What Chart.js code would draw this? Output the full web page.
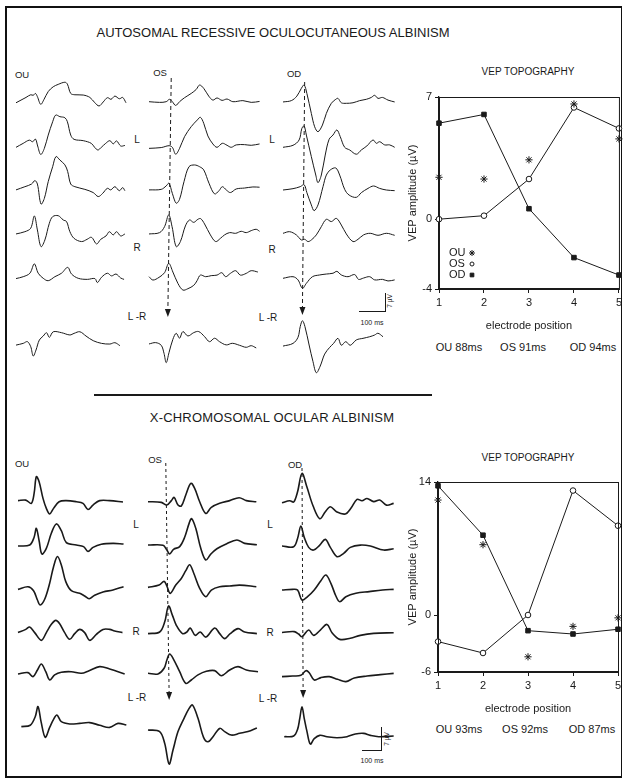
<!DOCTYPE html>
<html><head><meta charset="utf-8">
<script src="https://cdn.jsdelivr.net/npm/chart.js@4.4.1/dist/chart.umd.min.js"></script>
<style>
html,body{margin:0;padding:0;background:#fff;}
body{width:625px;height:780px;position:relative;overflow:hidden;font-family:"Liberation Sans",Arial,sans-serif;color:#1a1a1a;}
.t{position:absolute;white-space:nowrap;line-height:1;transform:translate(-50%,-50%);}
.ln{position:absolute;background:#1a1a1a;}
canvas{display:block;}
</style></head><body>
<div style="position:absolute;left:5px;top:6px;width:617px;height:772px;border:2px solid #111;border-right-width:1px;box-sizing:border-box;"></div>

<div class="t" style="left:273px;top:32px;font-size:13px;">AUTOSOMAL RECESSIVE OCULOCUTANEOUS ALBINISM</div>
<div class="ln" style="left:94px;top:394px;width:338px;height:2px;"></div>
<div class="t" style="left:272px;top:417px;font-size:13px;letter-spacing:0.2px;">X-CHROMOSOMAL OCULAR ALBINISM</div>

<div id="labels"></div>

<script>
// ---------- DATA ----------
// waveform traces: [time (ms), amplitude (µV)] pairs; 5 electrodes then L-R difference
const A_OU = [
 [[0,-0.4],[18,0.6],[36,1.6],[53,2.6],[62,2.4],[70,3.1],[77,1.9],[89,-1.0],[101,0.9],[116,3.8],[134,5.6],[152,6.5],[176,7.3],[185,6.6],[197,3.1],[212,2.6],[242,2.5],[266,1.6],[284,-0.4],[299,-1.6],[314,-0.1],[329,1.5],[342,0.9],[356,2.1],[372,1.1],[384,1.6],[396,-0.4]],
 [[0,-0.5],[26,1.0],[48,2.2],[60,1.6],[70,2.6],[78,0],[89,-3.2],[102,-0.9],[116,4.1],[132,9.1],[143,11.6],[158,11.0],[176,10.6],[185,9.1],[197,4.1],[209,2.5],[242,2.0],[271,1.0],[283,-0.5],[295,-1.5],[307,-0.5],[323,1.0],[338,2.0],[350,0.8],[362,1.9],[377,0],[392,0.2]],
 [[0,-0.6],[32,0.6],[56,1.6],[68,2.9],[77,1.6],[90,-5.9],[102,-3.8],[116,2.5],[132,8.1],[144,11.9],[158,10.6],[176,8.8],[186,6.3],[197,1.6],[212,0.6],[248,-0.4],[278,-1.6],[296,-3.1],[312,-1.9],[329,0],[341,-0.6],[356,0.6],[372,-0.9],[384,0.25],[392,-0.9]],
 [[0,-0.25],[32,0.6],[53,1.9],[66,6.5],[77,1.25],[90,-5.0],[104,-2.5],[120,3.75],[132,6.25],[152,6.6],[170,5.0],[182,4.4],[194,0.6],[209,-1.9],[236,-3.1],[256,-2.25],[272,-1.5],[290,-4.0],[305,-2.25],[324,-1.0],[336,0.6],[350,-0.6],[362,0.6],[377,-1.0],[392,-0.25]],
 [[0,-0.1],[26,0.6],[50,1.9],[66,5.4],[80,1.9],[98,0],[116,-0.9],[140,0.6],[164,1.9],[186,4.1],[200,1.6],[224,0],[257,-0.4],[284,-0.1],[293,-1.6],[308,0.4],[329,1.9],[344,0.9],[360,1.6],[377,0.1],[389,-0.4]],
 [[0,-0.9],[26,-0.25],[41,0.4],[53,-1.5],[62,-5.0],[72,-2.75],[84,1.0],[98,2.5],[110,3.75],[120,2.0],[134,4.1],[164,3.75],[194,2.9],[209,3.5],[230,4.1],[252,2.5],[278,0.75],[308,-0.25],[338,-0.5],[356,0],[374,-1.1]]
];
const A_OS = [
 [[0,0],[38,-0.25],[62,0],[74,0.9],[84,0],[96,-1.4],[110,0],[128,1.5],[152,3.1],[170,4.6],[182,6.25],[197,5.0],[215,2.1],[230,0.6],[245,1.4],[263,0.5],[281,1.0],[302,0],[338,0.4],[368,-0.25],[398,0.1]],
 [[0,-0.4],[44,-0.1],[72,0.6],[84,0],[96,-2.6],[110,-0.4],[128,4.0],[152,7.75],[174,10.25],[185,11.25],[197,9.0],[212,4.25],[230,1.25],[245,0],[264,1.5],[281,0.75],[296,0],[314,0.9],[344,1.0],[368,0.75],[398,1.25]],
 [[0,-0.6],[44,-0.4],[62,0.9],[72,1.9],[84,-1.9],[98,-5.6],[110,-4.1],[126,2.5],[144,8.1],[164,8.75],[182,8.1],[197,6.9],[216,1.9],[236,-2.1],[252,-0.9],[264,0.6],[278,-0.6],[293,-1.6],[314,-0.25],[344,0.1],[374,0.5],[398,0.4]],
 [[0,-0.25],[38,0.25],[56,2.5],[71,6.9],[83,2.5],[98,-5.0],[113,-3.1],[131,2.75],[146,5.0],[161,4.1],[176,5.25],[186,5.5],[200,3.5],[221,-0.6],[240,-3.1],[257,-1.9],[272,-0.6],[290,0.25],[312,0],[332,0.75],[350,0.25],[368,1.0],[386,1.5],[398,0.75]],
 [[0,0],[14,-1.25],[36,-0.25],[56,1.5],[71,5.0],[86,1.75],[104,-2.5],[122,-5.0],[140,-4.5],[161,-3.25],[173,-1.5],[185,0.6],[204,0],[224,0.4],[245,0.6],[262,1.5],[276,0],[293,1.25],[312,2.25],[329,0.6],[350,1.25],[368,2.25],[392,1.75]],
 [[0,-0.25],[24,0.25],[44,-0.75],[54,-3.75],[62,-7.25],[72,-3.5],[86,1.5],[98,3.75],[110,1.9],[122,4.4],[140,2.75],[161,4.0],[179,4.4],[200,2.5],[218,0.6],[236,1.9],[254,0.6],[278,-0.6],[300,0],[326,-0.75],[350,-1.5],[368,-0.9],[386,-1.75]]
];
const A_OD = [
 [[0,-0.1],[30,0.4],[50,2.1],[66,5.0],[76,6.25],[86,3.1],[102,-4.4],[114,-9.4],[126,-11.25],[142,-8.75],[156,-4.4],[174,-0.6],[190,0.9],[198,1.25],[210,-0.4],[228,-0.6],[252,-0.4],[276,0.4],[300,0.9],[318,1.6],[330,2.4],[342,1.25],[358,1.6],[378,0.6],[402,-0.1]],
 [[0,0],[36,0.75],[58,2.75],[68,7.1],[76,8.0],[84,4.6],[102,-3.5],[118,-10.4],[126,-13.25],[138,-10.4],[152,-2.9],[166,3.0],[180,4.6],[194,6.5],[206,4.0],[222,0],[240,-1.0],[264,-2.6],[282,-1.0],[302,0.5],[324,2.75],[336,1.5],[348,2.1],[366,0.9],[384,0.9],[402,0]],
 [[0,0],[36,0.5],[62,1.25],[76,2.0],[86,-1.0],[102,-5.6],[112,-7.75],[126,-5.6],[144,1.25],[156,5.6],[170,7.5],[190,8.25],[204,5.6],[222,0.25],[238,-1.9],[264,-2.75],[282,-1.0],[306,0.6],[326,1.5],[348,0.6],[372,0],[402,-0.25]],
 [[0,0],[24,0.6],[48,-0.6],[66,-2.5],[78,-2.25],[90,-3.1],[102,-2.5],[120,-0.6],[138,2.5],[156,5.25],[174,4.4],[192,5.6],[210,3.1],[228,-0.25],[252,-3.1],[270,-2.25],[290,-0.6],[314,0],[342,-0.75],[372,0],[402,-0.75]],
 [[0,0],[36,0.6],[54,-0.6],[70,-3.75],[84,-1.9],[106,0.6],[132,1.25],[156,1.6],[180,1.9],[194,2.6],[210,1.25],[234,0.6],[258,1.4],[272,-0.4],[290,0.1],[312,0.6],[330,-0.6],[358,-0.4],[378,-1.0],[402,-0.6]],
 [[0,-0.4],[36,0.6],[54,2.9],[62,6.9],[70,9.1],[79,6.9],[94,0],[108,-6.25],[120,-10.4],[134,-7.9],[150,-3.4],[168,-0.9],[182,0.6],[198,2.5],[210,-0.1],[226,1.25],[242,-0.1],[264,1.9],[288,2.5],[312,3.1],[330,3.75],[342,4.4],[360,3.1]]
];
const X_OU = [
 [[0,0.4],[28,0.6],[48,-0.6],[58,3.1],[66,9.4],[76,7.5],[90,1.25],[102,-2.5],[114,-4.6],[128,-2.5],[148,0],[174,0.4],[210,0],[234,-0.6],[252,-2.9],[270,-1.25],[294,0.4],[330,0.4],[378,-0.1]],
 [[0,-0.4],[42,0],[58,2.9],[66,6.25],[76,1.6],[86,-3.4],[102,-1.25],[120,4.4],[138,7.9],[156,5.4],[174,0.9],[210,0],[236,-0.6],[252,-2.4],[270,-0.9],[300,0.25],[342,0.6],[380,0.4]],
 [[0,-0.4],[36,0.6],[56,-0.9],[70,-4.4],[80,-6.25],[96,-4.1],[114,1.9],[128,8.1],[142,11.9],[156,8.75],[172,2.5],[192,-0.9],[222,-1.9],[240,-2.9],[256,-3.9],[276,-2.6],[306,-1.4],[342,-0.6],[380,0.6]],
 [[0,-0.6],[28,0.6],[42,1.5],[60,-0.6],[84,-3.5],[102,-0.6],[120,2.5],[136,4.0],[150,2.75],[168,-0.6],[186,-3.1],[204,-1.0],[222,0.6],[240,-0.6],[258,-3.5],[282,-1.25],[306,0.6],[330,0.6],[348,0],[376,-0.6]],
 [[0,-0.25],[36,0.25],[54,-1.25],[70,1.25],[84,3.5],[100,0.6],[114,-2.5],[132,-0.6],[156,0.4],[192,0.6],[228,0],[256,1.0],[294,2.5],[330,1.6],[384,-0.25]],
 [[12,-0.6],[44,-0.1],[62,3.1],[72,6.9],[83,1.25],[98,-4.6],[114,-0.9],[128,2.1],[140,3.75],[156,1.25],[186,0.4],[222,0.6],[258,0.9],[294,-0.1],[330,-0.9],[360,0.6],[390,0]]
];
const X_OS = [
 [[0,0],[48,-0.25],[68,-1.25],[84,0.4],[94,1.6],[108,-1.25],[120,-1.6],[136,2.5],[154,6.9],[168,5.0],[186,0],[208,-4.4],[228,-2.1],[258,-0.6],[294,0.4],[328,1.5],[354,0.4],[390,0]],
 [[0,0],[54,-0.1],[68,-1.9],[78,-3.4],[92,-1.6],[114,-0.6],[132,2.9],[148,8.1],[157,9.9],[172,6.25],[190,-1.25],[208,-5.6],[226,-3.4],[248,-1.4],[282,0.4],[320,1.9],[348,0.6],[392,0.1]],
 [[0,-0.25],[40,0.6],[58,2.0],[68,0.25],[80,-2.5],[100,0.6],[120,3.1],[136,6.0],[150,8.25],[164,5.25],[186,-0.6],[208,-3.75],[228,-1.25],[258,0],[294,0.25],[330,0.6],[390,0]],
 [[0,-0.6],[42,0],[60,3.75],[74,9.75],[88,6.25],[102,2.5],[124,-0.6],[140,0],[152,1.5],[170,-1.25],[188,0],[208,-1.9],[240,1.5],[258,-0.6],[276,-2.5],[296,-0.6],[324,1.25],[348,0],[392,-0.6]],
 [[0,0],[36,-0.25],[58,1.9],[68,5.0],[78,7.25],[92,5.25],[114,0.6],[136,-3.75],[156,-2.5],[180,-0.6],[210,0.75],[240,1.0],[264,-0.9],[294,1.25],[324,2.5],[354,1.25],[396,0.6]],
 [[0,0],[42,-0.6],[60,-5.0],[76,-12.75],[90,-7.5],[108,-0.6],[128,4.0],[148,8.1],[160,9.4],[180,4.4],[200,-2.75],[216,-4.4],[234,-2.5],[258,0.6],[276,-0.6],[300,-1.9],[330,-1.25],[360,-0.6],[392,0.75]]
];
const X_OD = [
 [[0,0],[28,0.75],[42,0.25],[56,4.1],[72,11.0],[90,5.75],[112,-1.25],[136,-6.0],[156,-3.4],[174,-1.5],[196,-3.4],[228,-4.25],[248,-2.1],[270,1.25],[288,0.75],[306,1.6],[330,0.4],[352,1.0],[376,-0.9],[402,-0.25]],
 [[0,0.25],[42,0],[56,3.1],[68,7.75],[80,3.5],[96,-0.25],[114,-1.25],[136,0.6],[156,2.75],[174,-0.25],[198,-3.75],[222,-2.5],[246,-0.25],[282,0.6],[318,0.25],[366,-1.25],[402,-0.75]],
 [[0,0],[38,0.25],[56,0],[72,-3.75],[92,-2.5],[116,0],[140,3.5],[158,5.6],[176,2.5],[194,-2.25],[208,-4.4],[230,-2.5],[266,-1.25],[314,-0.6],[362,0],[402,0.25]],
 [[0,0.1],[44,0.4],[60,-0.5],[72,-1.5],[96,1.0],[114,-1.0],[138,1.0],[162,3.1],[180,0],[208,-2.5],[246,-2.1],[282,-1.0],[330,-0.25],[402,0]],
 [[0,-0.25],[38,0],[68,0.25],[86,2.0],[98,1.25],[116,-1.5],[140,-0.6],[170,-0.25],[200,-1.25],[230,-2.1],[260,-0.75],[306,0],[354,0.5],[402,1.0]],
 [[8,0],[42,0.25],[56,2.75],[64,6.9],[72,11.25],[80,6.9],[90,1.9],[102,-2.75],[116,-0.75],[136,0.5],[162,0],[198,-0.4],[234,0],[264,1.0],[294,1.25],[318,0.5],[348,0],[402,0.25]]
];
// latency marker times (ms) at top and bottom of the dashed line
const A_OS_LAT = [80, 68];
const A_OD_LAT = [78, 70];
const X_OS_LAT = [64, 76];
const X_OD_LAT = [72, 76];

// VEP topography
const ELECTRODES = ['1','2','3','4','5'];
const A_TOPO_OU = [2.4, 2.3, 3.4, 6.6, 4.6];
const A_TOPO_OS = [0, 0.2, 2.3, 6.4, 5.2];
const A_TOPO_OD = [5.5, 6.0, 0.6, -2.2, -3.2];
const A_Y_TICKS = [-4, 0, 7];
const X_TOPO_OU = [12.1, 7.4, -4.4, -1.2, -0.3];
const X_TOPO_OS = [-2.8, -4.0, 0, 13.1, 9.4];
const X_TOPO_OD = [13.6, 8.4, -1.65, -2.0, -1.5];
const X_Y_TICKS = [-6, 0, 14];
const A_LAT_LABELS = ['OU 88ms', 'OS 91ms', 'OD 94ms'];
const X_LAT_LABELS = ['OU 93ms', 'OS 92ms', 'OD 87ms'];

// ---------- LAYOUT / STYLE ----------
const INK = '#1a1a1a';
const FONT = '"Liberation Sans", Arial, sans-serif';
const K = 8/3;            // px per µV
const MS_PER_PX = 3.6;    // ms per px
Chart.defaults.font.family = FONT;
Chart.defaults.color = INK;

const WAVE_LAYOUT = {
  A: {top:60, height:320, lw:1.0, dash:[4,3], cols:{
    OU:{x0:16,    base:[41.7,86,128.3,173.3,218.3,282.7]},
    OS:{x0:149.3, base:[41.7,87.3,128.3,173.3,216.7,283.3], lat:A_OS_LAT, ly:[18,257]},
    OD:{x0:283.3, base:[41.7,87.3,130,173.3,218.3,285],     lat:A_OD_LAT, ly:[22,255]}}},
  X: {top:450, height:330, lw:1.6, dash:[3,3], cols:{
    OU:{x0:18.3,  base:[51.7,95,138.3,181,223.3,275]},
    OS:{x0:148.3, base:[51.7,95,136.7,182,223.3,280], lat:X_OS_LAT, ly:[13,250]},
    OD:{x0:281.7, base:[52.7,96.7,140,182.7,226,286.7], lat:X_OD_LAT, ly:[18,248]}}}
};

function makeWave(panel, col, traces){
  const L = WAVE_LAYOUT[panel], C = L.cols[col];
  const PADL = 5, W = 124;
  const cv = document.createElement('canvas');
  cv.width = W; cv.height = L.height;
  cv.style.cssText = `position:absolute;left:${C.x0-PADL}px;top:${L.top}px;width:${W}px;height:${L.height}px;`;
  document.body.appendChild(cv);
  const datasets = traces.map((tr,i)=>({
    data: tr.map(([t,v])=>({x:t, y:C.base[i]-v*K})),
    borderColor:INK, borderWidth:L.lw, pointRadius:0, tension:0.35, clip:false
  }));
  if (C.lat){
    datasets.push({isMarker:true, data:[{x:C.lat[0], y:C.ly[0]},{x:C.lat[1], y:C.ly[1]-7}],
      borderColor:INK, borderWidth:1, borderDash:L.dash, pointRadius:0, tension:0, clip:false});
  }
  new Chart(cv, {
    type:'line', data:{datasets},
    options:{responsive:false, animation:false, events:[], layout:{padding:0},
      plugins:{legend:{display:false}, tooltip:{enabled:false}},
      scales:{
        x:{type:'linear', display:false, min:-PADL*MS_PER_PX, max:(W-PADL)*MS_PER_PX},
        y:{type:'linear', display:false, min:0, max:L.height, reverse:true}
      }},
    plugins:[{
      id:'arrowtip',
      afterDatasetsDraw(chart){
        chart.data.datasets.forEach((ds,i)=>{
          if(!ds.isMarker) return;
          const meta = chart.getDatasetMeta(i);
          const p = meta.data[meta.data.length-1];
          const ctx = chart.ctx;
          ctx.save(); ctx.fillStyle = INK; ctx.beginPath();
          ctx.moveTo(p.x, p.y+7); ctx.lineTo(p.x-3, p.y-1); ctx.lineTo(p.x+3, p.y-1); ctx.closePath(); ctx.fill();
          ctx.restore();
        });
      }
    }]
  });
}

makeWave('A','OU',A_OU); makeWave('A','OS',A_OS); makeWave('A','OD',A_OD);
makeWave('X','OU',X_OU); makeWave('X','OS',X_OS); makeWave('X','OD',X_OD);

// ---------- topography ----------
const framePlugin = {
  id:'frame',
  afterDraw(chart){
    const a = chart.chartArea, ctx = chart.ctx;
    ctx.save(); ctx.strokeStyle = INK; ctx.lineWidth = 1;
    ctx.strokeRect(a.left+0.5, a.top+0.5, a.right-a.left, a.bottom-a.top);
    ctx.restore();
  }
};
const insideLegend = {
  id:'insideLegend',
  afterDraw(chart, args, opts){
    if(!opts.show) return;
    const a = chart.chartArea, ctx = chart.ctx;
    ctx.save();
    ctx.font = '11px ' + FONT; ctx.fillStyle = INK; ctx.strokeStyle = INK; ctx.textBaseline = 'middle';
    const offs = [36, 25, 14];
    chart.data.datasets.forEach((ds,i)=>{
      const y = a.bottom - offs[i];
      ctx.fillText(ds.label, a.left + 10, y);
      ctx.fillStyle = ds.pointBackgroundColor; ctx.strokeStyle = INK; ctx.lineWidth = 1;
      Chart.helpers.drawPoint(ctx, {pointStyle:ds.pointStyle, radius:ds.legendRadius, borderWidth:1, rotation:0}, a.left + 33, y);
      ctx.fillStyle = INK;
    });
    ctx.restore();
  }
};

function makeTopo(opt){
  const cv = document.createElement('canvas');
  cv.width = 225; cv.height = 300;
  cv.style.cssText = `position:absolute;left:400px;top:${opt.top}px;width:225px;height:300px;`;
  document.body.appendChild(cv);
  const tickFont = {size:11, family:FONT};
  new Chart(cv, {
    type:'line',
    data:{labels:ELECTRODES, datasets:[
      {label:'OU', data:opt.ou, showLine:false, pointStyle:'star', pointRadius:3.6, borderColor:INK, pointBackgroundColor:INK, pointBorderWidth:1, legendRadius:3, clip:false},
      {label:'OS', data:opt.os, borderColor:INK, borderWidth:1, pointStyle:'circle', pointRadius:2.8, pointBackgroundColor:'#fff', pointBorderColor:INK, pointBorderWidth:1, tension:0, legendRadius:2, clip:false},
      {label:'OD', data:opt.od, borderColor:INK, borderWidth:1, pointStyle:'rect', pointRadius:3.2, pointBackgroundColor:INK, pointBorderColor:INK, tension:0, legendRadius:2.6, clip:false}
    ]},
    options:{responsive:false, animation:false, events:[],
      layout:{padding:{left:0, top:opt.padTop, right:opt.padRight, bottom:opt.padBottom}},
      plugins:{legend:{display:false}, tooltip:{enabled:false}, insideLegend:{show:opt.legend}},
      scales:{
        x:{type:'category', offset:false,
           grid:{display:true, drawOnChartArea:false, drawTicks:true, tickLength:4, color:INK},
           border:{display:true, color:INK, width:1.3},
           ticks:{font:tickFont, padding:3, maxRotation:0, color:INK},
           title:{display:true, text:'electrode position', font:{size:11, family:FONT}, padding:{top:4,bottom:4}, color:INK},
           afterFit(s){ s.height = opt.xH; }},
        y:{type:'linear', min:opt.yMin, max:opt.yMax,
           grid:{display:true, drawOnChartArea:false, drawTicks:true, tickLength:4, color:INK},
           border:{display:true, color:INK, width:1.3},
           afterBuildTicks(s){ s.ticks = opt.yTicks.map(v=>({value:v})); },
           ticks:{font:tickFont, padding:3, color:INK},
           title:{display:true, text:'VEP amplitude (\u00b5V)', font:{size:11, family:FONT}, padding:{top:6,bottom:4}, color:INK},
           afterFit(s){ s.width = opt.yW; }}
      }},
    plugins:[framePlugin, insideLegend]
  });
}

makeTopo({top:60, ou:A_TOPO_OU, os:A_TOPO_OS, od:A_TOPO_OD, yMin:-4, yMax:7, yTicks:A_Y_TICKS,
  padTop:37, padRight:5, padBottom:23, xH:48, yW:39, legend:true});
makeTopo({top:450, ou:X_TOPO_OU, os:X_TOPO_OS, od:X_TOPO_OD, yMin:-6, yMax:14, yTicks:X_Y_TICKS,
  padTop:32, padRight:7, padBottom:30, xH:48, yW:38, legend:false});

// ---------- text labels ----------
const TEXTS = [
  // [text, x, y, size]
  ['OU',22,75,9.5],['OS',160,73,9.5],['OD',294,74,9.5],
  ['L',137,140,10],['R',137,248,10],['L -R',137,317,10],
  ['L',272,140,10],['R',272,250,10],['L -R',268,318,10],
  ['OU',22,464,9.5],['OS',155,460,9.5],['OD',295,465,9.5],
  ['L',136,525,10],['R',136,632,10],['L -R',137,698,10],
  ['L',270,525,10],['R',270,633,10],['L -R',268,699,10],
  ['VEP TOPOGRAPHY',528,72,10],['VEP TOPOGRAPHY',528,458,10],
  [A_LAT_LABELS[0],459,347,11],[A_LAT_LABELS[1],523,347,11],[A_LAT_LABELS[2],593,347,11],
  [X_LAT_LABELS[0],459,729,11],[X_LAT_LABELS[1],525,729,11],[X_LAT_LABELS[2],592,729,11],
  ['100 ms',372,322,7],['100 ms',372,760,7]
];
const lab = document.getElementById('labels');
TEXTS.forEach(([s,x,y,f])=>{
  const d = document.createElement('div'); d.className='t'; d.textContent=s;
  d.style.left=x+'px'; d.style.top=y+'px'; d.style.fontSize=f+'px'; lab.appendChild(d);
});
// rotated µV labels for scale bars
[[390,301],[387,739]].forEach(([x,y])=>{
  const d = document.createElement('div'); d.className='t'; d.textContent='7 \u00b5V';
  d.style.cssText += `left:${x}px;top:${y}px;font-size:6.5px;transform:translate(-50%,-50%) rotate(-90deg);`;
  lab.appendChild(d);
});
// scale bars
[[359,311,27,1],[385,293,1,19],[362,750,20,1],[381,727,1,24]].forEach(([x,y,w,h])=>{
  const d = document.createElement('div'); d.className='ln';
  d.style.cssText += `left:${x}px;top:${y}px;width:${w}px;height:${h}px;`;
  lab.appendChild(d);
});
</script>
</body></html>
